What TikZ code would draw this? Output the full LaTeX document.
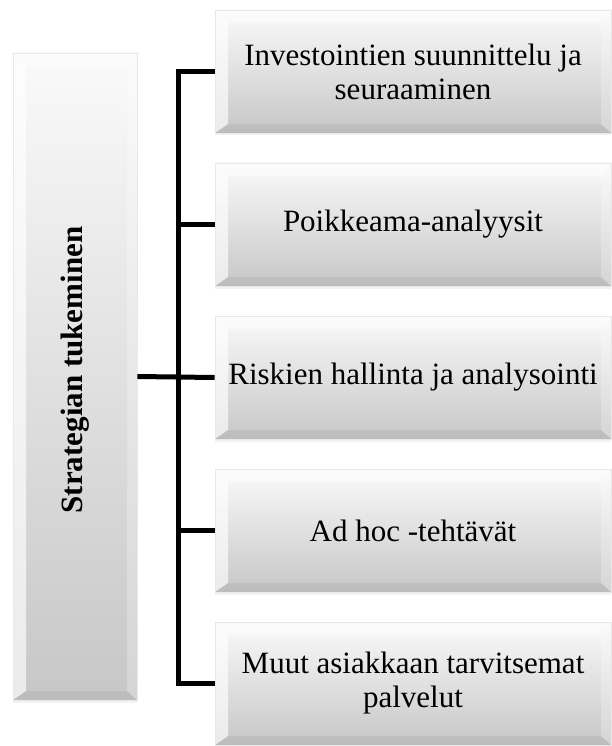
\documentclass[tikz,border=0pt]{standalone}
\usepackage{fontspec}
\setmainfont{Liberation Serif}
\usetikzlibrary{shadows}
\begin{document}
\begin{tikzpicture}[x=1pt,y=-1pt,
  bevelbox/.style={
    rectangle, draw=black!9, line width=0.6pt,
    top color=black!2, bottom color=black!22,
    align=center, inner sep=2pt,
    font=\fontsize{31}{34}\selectfont,
    drop shadow={opacity=0.10, shadow xshift=0pt, shadow yshift=-2.5pt},
    path picture={
      \fill[white,opacity=0.45]
        (path picture bounding box.north west) -- (path picture bounding box.north east)
        -- ([xshift=-10pt,yshift=-13pt]path picture bounding box.north east)
        -- ([xshift=13pt,yshift=-13pt]path picture bounding box.north west) -- cycle;
      \fill[white,opacity=0.65]
        (path picture bounding box.north west)
        -- ([xshift=13pt,yshift=-13pt]path picture bounding box.north west)
        -- ([xshift=13pt,yshift=9pt]path picture bounding box.south west)
        -- (path picture bounding box.south west) -- cycle;
      \fill[black,opacity=0.05]
        (path picture bounding box.south west)
        -- ([xshift=13pt,yshift=9pt]path picture bounding box.south west)
        -- ([xshift=-10pt,yshift=9pt]path picture bounding box.south east)
        -- (path picture bounding box.south east) -- cycle;
      \fill[white,opacity=0.25]
        (path picture bounding box.north east)
        -- ([xshift=-10pt,yshift=-13pt]path picture bounding box.north east)
        -- ([xshift=-10pt,yshift=9pt]path picture bounding box.south east)
        -- (path picture bounding box.south east) -- cycle;
    }},
  itembox/.style={bevelbox, minimum width=396pt, minimum height=123pt},
  conn/.style={line width=5pt, line join=miter}
]
\useasboundingbox (0,0) rectangle (612,746);

% left column box and its rotated title
\node[bevelbox, minimum width=124pt, minimum height=647pt] (s) at (75,376.5) {};
\node[rotate=90, font=\fontsize{31}{34}\selectfont\bfseries] (st) at (75,370) {Strategian tukeminen};

% right column boxes
\node[itembox] (b1) at (413,71.5)  {Investointien suunnittelu ja\\seuraaminen};
\node[itembox] (b2) at (413,224.5) {Poikkeama-analyysit};
\node[itembox] (b3) at (413,377.5) {Riskien hallinta ja analysointi};
\node[itembox] (b4) at (413,530.5) {Ad hoc -tehtävät};
\node[itembox] (b5) at (413,683.5) {Muut asiakkaan tarvitsemat\\palvelut};

% bracket connectors
\coordinate (spine) at (178,0);
\draw[conn] (b1.west) -- (b1.west -| spine) -- (b5.west -| spine) -- (b5.west);
\draw[conn] (b2.west -| spine) -- (b2.west);
\draw[conn] (b4.west -| spine) -- (b4.west);
\draw[conn] (s.east) -- (b3.west);
\end{tikzpicture}
\end{document}
